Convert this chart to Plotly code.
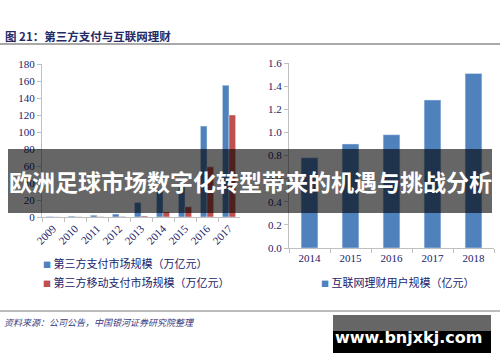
import plotly.graph_objects as go

# ---- data ----
years_left = ["2009", "2010", "2011", "2012", "2013", "2014", "2015", "2016", "2017"]
pay_total = [0.6, 1.0, 2.1, 3.5, 17, 32, 38, 107, 155]
pay_mobile = [0.1, 0.2, 0.3, 0.5, 1.2, 6, 12, 59, 120]
years_right = ["2014", "2015", "2016", "2017", "2018"]
wealth_users = [0.78, 0.90, 0.98, 1.28, 1.51]

name_total = "第三方支付市场规模（万亿元）"
name_mobile = "第三方移动支付市场规模（万亿元）"
name_users = "互联网理财用户规模（亿元）"
title_text = "图 21：第三方支付与互联网理财"
source_text = "资料来源：公司公告，中国银河证券研究院整理"
banner_text = "欧洲足球市场数字化转型带来的机遇与挑战分析"
watermark_text = "www.bnjxkj.com"

W, H = 500, 362
BLUE = "#4F81BD"
RED = "#C0504D"
NAVY = "#22226A"
SERIF = "Liberation Serif"
CJK = "Noto Sans CJK SC"


def px(x):
    return x / W


def py(y):
    return 1 - y / H


fig = go.Figure()
fig.add_trace(go.Bar(x=years_left, y=pay_total, name=name_total, marker_color=BLUE,
                     width=0.3, offset=-0.3, xaxis="x", yaxis="y", showlegend=False))
fig.add_trace(go.Bar(x=years_left, y=pay_mobile, name=name_mobile, marker_color=RED,
                     width=0.3, offset=0.0, xaxis="x", yaxis="y", showlegend=False))
fig.add_trace(go.Bar(x=years_right, y=wealth_users, name=name_users, marker_color=BLUE,
                     width=0.41, xaxis="x2", yaxis="y2", showlegend=False))

axis_common = dict(showgrid=False, zeroline=False, showline=True, linecolor="#BFBFBF",
                   linewidth=1, ticks="outside", tickcolor="#BFBFBF", ticklen=4,
                   automargin=False,
                   tickfont=dict(family=SERIF, size=11, color=NAVY))

fig.update_layout(
    width=W, height=H, margin=dict(l=0, r=0, t=0, b=0, autoexpand=False),
    paper_bgcolor="white", plot_bgcolor="white", barmode="group",
    xaxis=dict(domain=[px(42), px(240)], anchor="y", type="category", tickangle=-45,
               tickson="boundaries", range=[-0.5, 8.5], **axis_common),
    yaxis=dict(domain=[py(217), py(64)], anchor="x", range=[0, 180], dtick=20,
               **axis_common),
    xaxis2=dict(domain=[px(289), px(494)], anchor="y2", type="category",
                tickson="boundaries", range=[-0.5, 4.5], **axis_common),
    yaxis2=dict(domain=[py(248), py(63)], anchor="x2", range=[0, 1.6], dtick=0.2,
                tickformat=".1f", **axis_common),
)

shapes = [
    dict(type="line", xref="paper", yref="paper", x0=0, x1=1, y0=py(44), y1=py(44),
         line=dict(color="#8C8C8C", width=1.5)),
    dict(type="line", xref="paper", yref="paper", x0=0, x1=1, y0=py(311), y1=py(311),
         line=dict(color="#A6A6A6", width=1.5)),
    dict(type="rect", xref="paper", yref="paper", x0=px(8), x1=px(492), y0=py(213), y1=py(149),
         fillcolor="rgba(0,0,0,0.6)", line=dict(width=0), layer="above"),
    dict(type="rect", xref="paper", yref="paper", x0=px(333), x1=px(491), y0=py(331), y1=py(315),
         fillcolor="#666666", line=dict(width=0), layer="above"),
    dict(type="rect", xref="paper", yref="paper", x0=px(333), x1=px(491), y0=py(353), y1=py(331),
         fillcolor="#000000", line=dict(width=0), layer="above"),
]


def legend_text(color, label):
    return f'<span style="color:{color};font-size:8px">■</span> {label}'


annotations = [
    dict(text=f"<b>{title_text}</b>", x=px(3), y=py(36), xanchor="left", yanchor="middle",
         font=dict(family=CJK, size=11.5, color="#1F2A66")),
    dict(text=f"<i>{source_text}</i>", x=px(2), y=py(322), xanchor="left", yanchor="middle",
         font=dict(family=CJK, size=9, color="#3A3A80")),
    dict(text=legend_text(BLUE, name_total), x=px(41), y=py(263), xanchor="left", yanchor="middle",
         font=dict(family=CJK, size=11, color=NAVY)),
    dict(text=legend_text(RED, name_mobile), x=px(41), y=py(282), xanchor="left", yanchor="middle",
         font=dict(family=CJK, size=11, color=NAVY)),
    dict(text=legend_text(BLUE, name_users), x=px(319), y=py(282), xanchor="left", yanchor="middle",
         font=dict(family=CJK, size=11, color=NAVY)),
    dict(text=f"<b>{banner_text}</b>", x=px(250), y=py(181), xanchor="center", yanchor="middle",
         font=dict(family=CJK, size=23, color="white")),
    dict(text=f"<b>{watermark_text}</b>", x=px(408), y=py(337), xanchor="center", yanchor="middle",
         font=dict(family="DejaVu Sans", size=16, color="white")),
]
for a in annotations:
    a.update(xref="paper", yref="paper", showarrow=False)

fig.update_layout(shapes=shapes, annotations=annotations)
fig.write_html(
    "out.html",
    config={"displayModeBar": False},
    post_script="document.body.style.margin='0';document.body.style.overflow='hidden';",
)
